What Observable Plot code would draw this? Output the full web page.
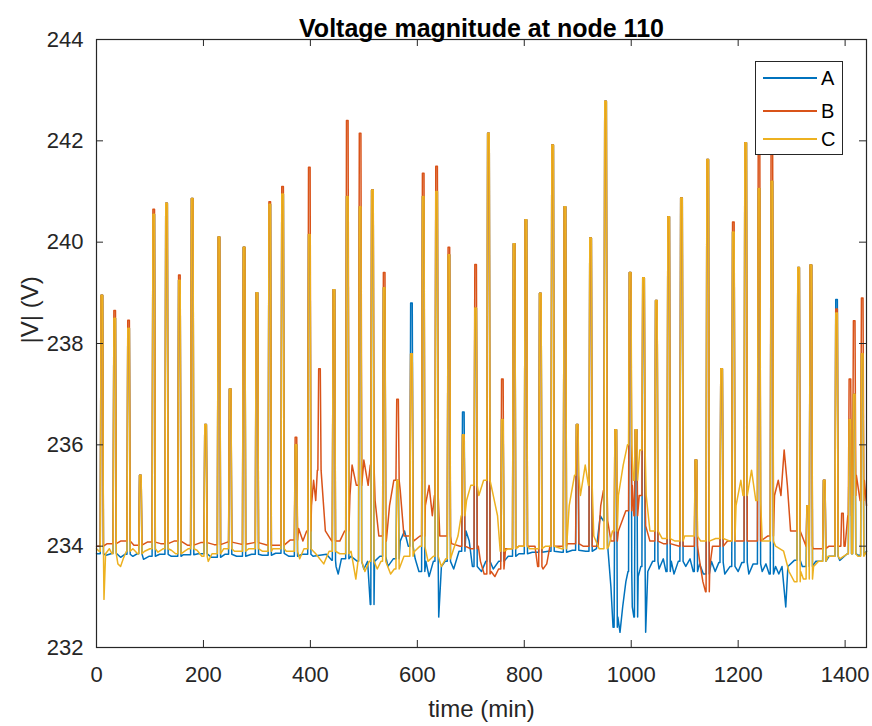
<!DOCTYPE html>
<html><head><meta charset="utf-8">
<script src="https://cdn.jsdelivr.net/npm/d3@7"></script>
<script src="https://cdn.jsdelivr.net/npm/@observablehq/plot@0.6"></script>
<style>
body{margin:0;background:#fff;font-family:"Liberation Sans",Arial,sans-serif;}
#wrap{position:relative;width:872px;height:726px;overflow:hidden;}
#legend{position:absolute;left:755px;top:61px;width:88px;height:94px;border:1px solid #262626;background:#fff;box-sizing:border-box;}
#legend .row{position:absolute;left:0;width:100%;height:0;}
#legend .ln{position:absolute;left:7px;width:54px;height:1.5px;top:-0.75px;}
#legend .lb{position:absolute;left:65px;top:-12px;font-size:20px;line-height:24px;color:#000;}
</style></head>
<body><div id="wrap"></div>
<script>
// ---- data ----
const seriesNames = ["A", "B", "C"];
const seriesColors = ["#0072BD", "#D95319", "#EDB120"];
const xTicks = [0, 200, 400, 600, 800, 1000, 1200, 1400];
const yTicks = [232, 234, 236, 238, 240, 242, 244];

// spike times (min) and peak voltages per phase (null = no spike)
const spikeT = [10, 34, 60, 82, 107, 131, 155, 179, 204, 229, 250, 276, 300, 324, 348, 373, 398, 417, 444, 469, 493, 516, 538, 563, 589, 611, 636, 659, 686, 709, 733, 759, 781, 803, 830, 853, 876, 899, 924, 952, 971, 998, 1009, 1023, 1047, 1070, 1094, 1121, 1143, 1169, 1191, 1214, 1239, 1263, 1313, 1330, 1336, 1361, 1384, 1395, 1409, 1417, 1432];
const peakC = [238.95, 238.5, 238.3, 235.4, 240.55, 240.77, 239.25, 240.86, 236.4, 240.1, 237.1, 239.9, 239.0, 240.75, 240.95, 236.0, 240.15, null, 239.06, 240.9, 240.7, 241.03, 239.1, 235.3, 237.8, 240.9, 241.0, 239.75, 236.2, 238.7, 242.15, 236.5, 239.97, 240.44, 238.99, 241.92, 240.7, 236.4, 240.08, 242.78, 236.3, 239.4, 236.3, 239.3, 238.85, 240.5, 240.87, 235.7, 241.63, 237.5, 240.2, 241.96, 241.06, 241.2, 239.5, 234.8, 239.55, 235.3, 238.6, null, 236.5, 237.0, 237.8];
const peakB = [238.95, 238.65, 238.46, 235.4, 240.65, 240.77, 239.35, 240.86, 236.4, 240.1, 237.1, 239.9, 239.0, 240.8, 241.1, 236.15, 241.48, 237.5, 239.06, 242.4, 242.15, 241.03, 239.4, 236.9, 237.8, 241.36, 241.5, 239.9, 236.2, 239.56, 242.15, 237.3, 239.97, 240.44, 238.99, 241.92, 240.7, 236.4, 240.08, 242.78, 236.3, 239.4, 236.3, 239.3, 238.85, 240.5, 240.87, 235.7, 241.63, 237.5, 240.4, 241.96, 241.9, 241.9, 239.5, 234.8, 239.55, 235.3, 238.68, 234.65, 237.3, 238.45, 238.9];
const peakA = [238.95, 238.5, 238.3, 235.4, 240.55, 240.77, 239.25, 240.86, 236.4, 240.1, 237.1, 239.9, 239.0, 240.75, 240.95, 236.0, 240.15, null, 239.06, 240.9, 240.7, 241.03, 239.1, 235.3, 238.8, 240.9, 241.0, 239.75, 236.65, 238.7, 242.15, 236.5, 239.97, 240.44, 238.99, 241.92, 240.7, 236.4, 240.08, 242.78, 236.3, 239.4, 236.3, 239.3, 238.85, 240.5, 240.87, 235.7, 241.63, 237.5, 240.2, 241.96, 241.06, 241.2, 239.5, 234.8, 239.55, 235.3, 238.87, null, 236.5, 237.0, 237.8];

// baseline readings between spikes [time, voltage]
const baseA = [[0,233.85],[18,233.82],[30,233.86],[45,233.78],[53,233.84],[68,233.8],[76,233.85],[88,233.74],[98,233.8],[118,233.84],[140,233.8],[162,233.83],[190,233.85],[215,233.78],[240,233.84],[262,233.8],[290,233.84],[310,233.82],[335,233.86],[360,233.8],[385,233.84],[405,233.8],[430,233.84],[440,233.72],[448,233.6],[452,233.45],[458,233.75],[476,233.8],[488,233.7],[500,233.55],[507,233.7],[512,232.85],[520,233.7],[530,233.8],[545,233.6],[555,233.75],[568,234.1],[576,234.3],[583,234.0],[596,233.75],[603,233.5],[616,233.7],[622,233.4],[630,233.7],[640,232.6],[645,233.6],[652,233.7],[668,233.55],[678,233.9],[691,234.3],[697,234.1],[703,233.6],[720,233.5],[728,233.7],[742,233.55],[752,233.7],[770,233.8],[790,233.85],[815,233.88],[845,233.9],[870,233.88],[890,233.92],[915,233.9],[935,233.95],[942,234.6],[948,234.5],[956,234.0],[962,233.2],[966,232.4],[975,232.6],[979,232.3],[984,232.8],[990,233.3],[994,233.5],[1002,232.8],[1005,232.6],[1013,233.4],[1018,233.6],[1027,232.3],[1031,233.5],[1040,233.7],[1052,233.55],[1060,233.75],[1065,233.5],[1075,233.7],[1080,233.45],[1088,233.7],[1102,233.6],[1110,233.75],[1116,233.5],[1128,233.65],[1135,233.45],[1150,233.7],[1157,233.5],[1164,233.68],[1175,233.45],[1185,233.6],[1200,233.5],[1207,233.68],[1220,233.45],[1228,233.65],[1245,233.5],[1252,233.65],[1258,233.45],[1270,233.6],[1276,233.45],[1282,233.6],[1289,232.8],[1293,233.6],[1305,233.72],[1320,233.6],[1345,233.7],[1370,233.8],[1390,233.72],[1404,233.85],[1425,233.82],[1440,233.9]];
const baseB = [[0,234.0],[20,234.05],[45,234.1],[70,234.02],[95,234.08],[120,234.05],[145,234.1],[170,234.02],[195,234.07],[220,234.03],[245,234.08],[270,234.04],[295,234.07],[320,234.02],[345,234.08],[362,234.12],[378,234.35],[386,234.1],[393,234.3],[402,234.8],[406,235.3],[410,234.9],[413,235.5],[422,235.2],[428,234.3],[440,234.1],[455,234.1],[464,234.3],[474,235.0],[478,235.6],[486,235.2],[490,235.5],[500,235.7],[508,235.2],[512,235.6],[521,234.9],[528,234.2],[542,234.1],[548,234.8],[556,235.3],[568,235.1],[575,234.2],[593,234.1],[605,234.2],[615,234.8],[622,235.2],[628,234.6],[632,235.0],[642,234.2],[664,234.05],[680,234.0],[700,233.95],[714,234.0],[718,233.7],[725,233.45],[738,233.5],[745,233.4],[752,233.55],[765,233.95],[790,234.0],[820,234.0],[825,233.6],[835,233.55],[842,233.65],[848,234.0],[880,234.05],[910,234.0],[938,234.0],[943,234.8],[948,235.1],[956,234.5],[962,234.1],[976,234.3],[990,234.7],[1002,235.2],[1005,234.6],[1015,235.0],[1027,234.4],[1035,234.1],[1060,234.05],[1090,234.0],[1120,234.05],[1128,233.7],[1134,233.3],[1139,233.1],[1147,233.6],[1152,234.0],[1180,234.1],[1208,234.1],[1233,234.1],[1255,234.2],[1268,235.0],[1275,235.3],[1280,235.0],[1286,235.9],[1292,235.2],[1298,234.3],[1310,234.0],[1340,233.95],[1370,234.0],[1400,234.0],[1405,234.6],[1413,235.0],[1421,235.4],[1428,234.9],[1436,235.3],[1440,234.8]];
const baseC = [[0,233.95],[5,233.9],[14,232.95],[17,233.85],[24,233.95],[29,233.85],[40,233.65],[45,233.6],[50,233.75],[56,233.9],[68,233.95],[77,233.85],[90,233.9],[100,233.95],[115,233.88],[125,233.95],[140,233.92],[148,233.85],[165,233.9],[172,233.95],[188,233.92],[197,233.8],[209,233.7],[216,233.85],[238,233.95],[258,233.9],[285,233.95],[310,233.9],[330,233.95],[355,233.9],[380,233.75],[388,233.95],[410,233.85],[425,233.65],[435,233.9],[455,233.85],[476,233.9],[485,233.35],[489,233.7],[502,233.5],[510,233.7],[525,233.55],[532,233.7],[550,233.45],[557,233.55],[575,233.8],[595,233.9],[605,234.0],[620,233.7],[630,233.8],[645,233.6],[653,233.75],[668,233.95],[676,234.2],[682,234.6],[692,234.9],[700,235.2],[715,235.0],[724,235.3],[740,235.1],[750,234.6],[755,233.9],[770,233.95],[790,234.0],[810,233.95],[840,234.0],[870,233.95],[884,234.8],[894,235.4],[905,235.0],[914,235.6],[920,235.2],[930,234.2],[940,233.95],[958,234.0],[965,234.3],[976,235.0],[985,235.6],[993,236.0],[1004,235.3],[1016,235.9],[1028,235.0],[1035,234.3],[1045,234.1],[1058,234.15],[1082,234.1],[1100,234.2],[1130,234.1],[1158,234.15],[1185,234.1],[1196,234.8],[1205,235.3],[1209,235.0],[1225,235.5],[1233,234.9],[1245,234.1],[1270,234.0],[1285,233.9],[1295,233.5],[1305,233.3],[1317,233.5],[1322,233.35],[1341,233.6],[1350,233.7],[1368,233.8],[1390,233.75],[1404,233.85],[1424,233.8],[1440,233.9]];

// ---- build the series ----
function build(base, peaks) {
  const spikes = spikeT.map((t, i) => [t, peaks[i]]).filter(d => d[1] != null);
  const pts = base.filter(([t]) => !spikes.some(([s]) => Math.abs(t - s) <= 3.5)).map(([t, v]) => ({t, v}));
  for (const [s, p] of spikes) {
    const before = base.filter(([t]) => t <= s - 3.5);
    const b = before.length ? before[before.length - 1][1] : base[0][1];
    pts.push({t: s - 3, v: b}, {t: s - 1.5, v: p}, {t: s + 1.5, v: p}, {t: s + 3, v: b});
  }
  return pts.sort((a, b) => a.t - b.t);
}
const dataA = build(baseA, peakA);
const dataB = build(baseB, peakB);
const dataC = build(baseC, peakC);

const axisColor = "#262626";
const lw = 1.5;
const chart = Plot.plot({
  width: 872, height: 726,
  marginLeft: 96, marginRight: 6, marginTop: 39, marginBottom: 79,
  style: {fontFamily: "'Liberation Sans', Arial, sans-serif", fontSize: "22px", color: axisColor, background: "#fff"},
  x: {domain: [0, 1440], label: null},
  y: {domain: [232, 244], label: null},
  marks: [
    Plot.line(dataA, {x: "t", y: "v", stroke: seriesColors[0], strokeWidth: lw}),
    Plot.line(dataB, {x: "t", y: "v", stroke: seriesColors[1], strokeWidth: lw}),
    Plot.line(dataC, {x: "t", y: "v", stroke: seriesColors[2], strokeWidth: lw}),
    Plot.frame({stroke: axisColor, strokeWidth: 1.2}),
    Plot.tickX(xTicks, {x: d => d, insetTop: 601, stroke: axisColor}),
    Plot.tickX(xTicks, {x: d => d, insetBottom: 601, stroke: axisColor}),
    Plot.tickY(yTicks, {y: d => d, insetRight: 763, stroke: axisColor}),
    Plot.tickY(yTicks, {y: d => d, insetLeft: 763, stroke: axisColor}),
    Plot.axisX({ticks: xTicks, tickSize: 0, tickPadding: 19, tickFormat: "d", fontSize: 22, label: null}),
    Plot.axisY({ticks: yTicks, tickSize: 0, tickPadding: 13, tickFormat: "d", fontSize: 22, label: null}),
    Plot.text(["Voltage magnitude at node 110"], {frameAnchor: "top", dy: -20, fontSize: 25, fontWeight: "bold", fill: "#000"}),
    Plot.text(["time (min)"], {frameAnchor: "bottom", dy: 69, fontSize: 24, fill: axisColor}),
    Plot.text(["|V| (V)"], {frameAnchor: "left", dx: -66, rotate: -90, fontSize: 24, fill: axisColor})
  ]
});
const wrap = document.getElementById("wrap");
wrap.appendChild(chart);

// legend
const legend = document.createElement("div");
legend.id = "legend";
const rowTops = [16, 49, 77];
seriesNames.forEach((name, i) => {
  const row = document.createElement("div");
  row.className = "row";
  row.style.top = rowTops[i] + "px";
  row.innerHTML = `<span class="ln" style="background:${seriesColors[i]}"></span><span class="lb">${name}</span>`;
  legend.appendChild(row);
});
wrap.appendChild(legend);
</script>
</body></html>
